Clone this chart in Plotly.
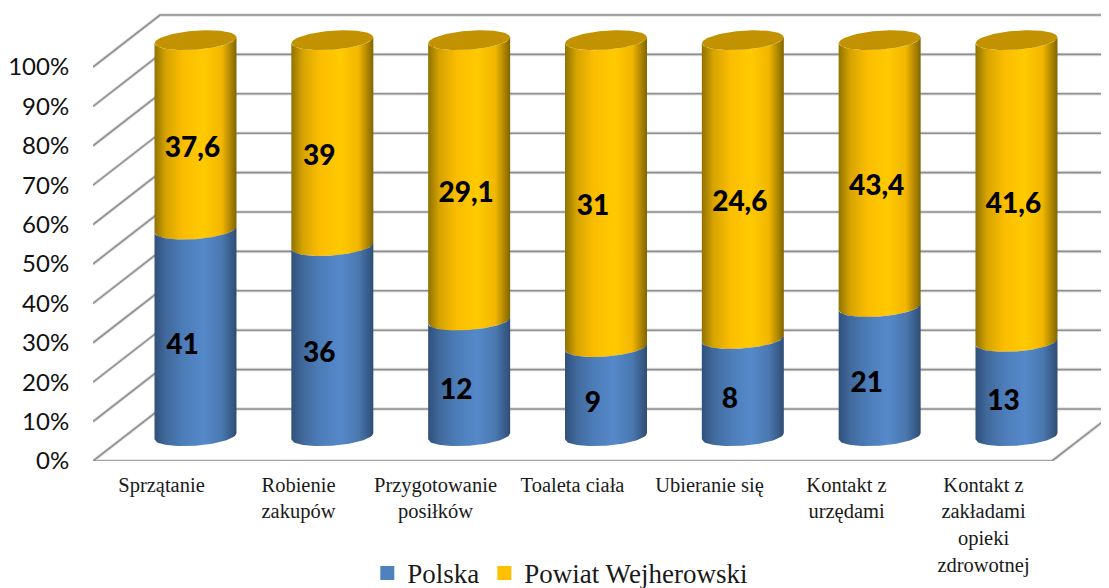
import numpy as np
import plotly.graph_objects as go

categories = ["Sprzątanie", "Robienie<br>zakupów", "Przygotowanie<br>posiłków", "Toaleta ciała",
              "Ubieranie się", "Kontakt z<br>urzędami", "Kontakt z<br>zakładami<br>opieki<br>zdrowotnej"]
polska = [41, 36, 12, 9, 8, 21, 13]
powiat = [37.6, 39, 29.1, 31, 24.6, 43.4, 41.6]
labels_polska = ["41", "36", "12", "9", "8", "21", "13"]
labels_powiat = ["37,6", "39", "29,1", "31", "24,6", "43,4", "41,6"]
percent_ticks = [0, 10, 20, 30, 40, 50, 60, 70, 80, 90, 100]
series_names = ["Polska", "Powiat Wejherowski"]

# the page body adds 8 px on the left and top, so the figure is that much smaller
PAGE = 8
W, H = 1109 - PAGE, 588 - PAGE
LEFT, AXIS_BOTTOM = 93 - PAGE, 461 - PAGE
PX_Y = 3.94            # px per percent
PX_X = 137.0           # px per category
DX, DY = 67 / PX_X, 52 / PX_Y     # depth of the 3D box in axis units
X0, X1 = -0.5, -0.5 + (W - LEFT) / PX_X
Y1 = AXIS_BOTTOM / PX_Y
CX_SHIFT = 34 / PX_X
CX_STEP = 136.83 / PX_X
A = 41 / PX_X          # cylinder half width
B = 9.5 / PX_Y         # ellipse half height
S = 3 / PX_Y           # ellipse tilt
BASE = 6.3             # base centre of the cylinder on the y axis
SPAN = 100.5           # height of a full cylinder on the y axis

BLUE = [[0, "#2f507c"], [0.14, "#41699c"], [0.35, "#4c7db9"], [0.6, "#5689ca"], [0.82, "#4a78b0"], [1, "#2e4d75"]]
GOLD = [[0, "#8f7200"], [0.14, "#d6a400"], [0.35, "#fbbd00"], [0.6, "#ffca00"], [0.82, "#f2b600"], [1, "#806500"]]
CAP = "#c29200"

fig = go.Figure()

# walls and floor of the 3D box
gx, gy = [], []
for v in percent_ticks:
    gx += [X0, X0 + DX, X1 + DX, None]
    gy += [v, v + DY, v + DY, None]
gx += [X0, 6.5, 6.5 + DX, None]
gy += [0, 0, DY, None]
for width, color in ((3.5, "#e2e2e2"), (1.6, "#8f8f8f")):
    fig.add_trace(go.Scatter(x=gx, y=gy, mode="lines", line=dict(color=color, width=width),
                             hoverinfo="skip", showlegend=False))

u = np.linspace(-1, 1, 61)
root = np.sqrt(1 - u ** 2)


def lower(cy):
    return cy + S * u - B * root


def upper(cy):
    return cy + S * u + B * root


def band(cx, y0, y1, scale):
    xs = cx + A * u
    fig.add_trace(go.Scatter(
        x=np.concatenate([xs, xs[::-1]]),
        y=np.concatenate([lower(y0), lower(y1)[::-1]]),
        mode="lines", line=dict(width=0), fill="toself",
        fillgradient=dict(type="horizontal", colorscale=scale),
        hoverinfo="skip", showlegend=False))


label_x, label_y, label_text = [], [], []
for i, (a, b) in enumerate(zip(polska, powiat)):
    total = a + b
    split = BASE + SPAN * a / total
    top = BASE + SPAN
    cx = i * CX_STEP + CX_SHIFT
    band(cx, split, top, GOLD)
    band(cx, BASE, split, BLUE)
    xs = cx + A * u
    fig.add_trace(go.Scatter(
        x=np.concatenate([xs, xs[::-1]]),
        y=np.concatenate([lower(top), upper(top)[::-1]]),
        mode="lines", line=dict(width=0), fill="toself", fillcolor=CAP,
        hoverinfo="skip", showlegend=False))
    for text, mid in ((labels_polska[i], (BASE + split) / 2 - 3.5), (labels_powiat[i], (split + top) / 2 - 3.7)):
        label_x.append(cx - (3 if len(text) > 2 else 13) / PX_X)
        label_y.append(mid)
        label_text.append(text)

fig.add_trace(go.Scatter(x=label_x, y=label_y, text=label_text, mode="text",
                         textposition="middle center",
                         textfont=dict(family="Lato", size=28, color="#000000", weight=900),
                         hoverinfo="skip", showlegend=False))

for name, color in zip(series_names, ("#4f81bd", "#ffc000")):
    fig.add_trace(go.Scatter(x=[None], y=[None], mode="markers", name=name,
                             marker=dict(symbol="square", size=14, color=color)))

fig.update_layout(
    width=W, height=H, autosize=False,
    margin=dict(l=LEFT, r=0, t=0, b=0, pad=0, autoexpand=False),
    paper_bgcolor="white", plot_bgcolor="white",
    xaxis=dict(range=[X0, X1], tickmode="array", tickvals=list(range(7)), ticktext=categories,
               showgrid=False, zeroline=False, showline=False, ticks="outside", ticklen=5,
               tickcolor="rgba(0,0,0,0)", tickangle=0, automargin=False,
               tickfont=dict(family="Liberation Serif", size=20.5, color="#1a1a1a")),
    yaxis=dict(range=[0, Y1], domain=[1 - AXIS_BOTTOM / H, 1], tickmode="array", tickvals=percent_ticks,
               ticktext=[f"{v}%" for v in percent_ticks],
               showgrid=False, zeroline=False, showline=False, ticks="outside", ticklen=18,
               tickcolor="rgba(0,0,0,0)", automargin=False,
               tickfont=dict(family="Lato", size=24, color="#111111")),
    legend=dict(orientation="h", x=0.27, xanchor="left", y=-0.017, yanchor="bottom",
                font=dict(family="Liberation Serif", size=27, color="#1a1a1a"),
                itemwidth=30, bgcolor="rgba(0,0,0,0)"),
    showlegend=True,
)
fig.write_html("out.html")
